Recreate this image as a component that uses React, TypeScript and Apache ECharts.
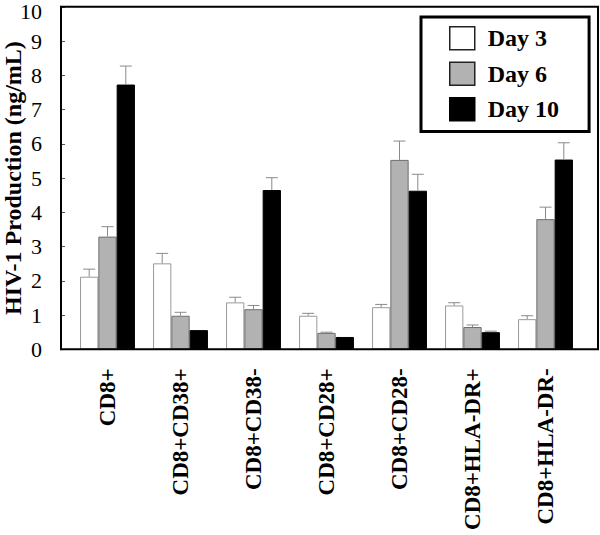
import React, { useEffect, useRef } from "react";
import * as echarts from "echarts";

const categories = ["CD8+", "CD8+CD38+", "CD8+CD38-", "CD8+CD28+", "CD8+CD28-", "CD8+HLA-DR+", "CD8+HLA-DR-"];
const seriesNames = ["Day 3", "Day 6", "Day 10"];
const day3 = [2.12, 2.51, 1.37, 0.98, 1.23, 1.28, 0.88];
const day3Sd = [0.22, 0.29, 0.15, 0.07, 0.08, 0.08, 0.1];
const day6 = [3.29, 0.98, 1.17, 0.48, 5.53, 0.65, 3.8];
const day6Sd = [0.29, 0.1, 0.11, 0.02, 0.55, 0.06, 0.35];
const day10 = [7.73, 0.56, 4.65, 0.36, 4.63, 0.5, 5.54];
const day10Sd = [0.54, 0, 0.36, 0, 0.48, 0.03, 0.49];
const yTicks = [0, 1, 2, 3, 4, 5, 6, 7, 8, 9, 10];

const FONT = "'Liberation Serif', 'Times New Roman', serif";
const BAR_W = 18.3;

export default function App() {
  const ref = useRef<HTMLDivElement>(null);
  useEffect(() => {
    if (!ref.current) return;
    const chart = echarts.init(ref.current, undefined, { renderer: "svg" });
    const means = [day3, day6, day10];
    const sds = [day3Sd, day6Sd, day10Sd];
    const fills = ["#ffffff", "#b2b2b2", "#000000"];
    const borders = ["#9a9a9a", "#6e6e6e", "#000000"];
    const yMin = yTicks[0];
    const yMax = yTicks[yTicks.length - 1];

    const barSeries = seriesNames.map((name, s) => ({
      name,
      type: "bar",
      xAxisIndex: 0,
      yAxisIndex: 0,
      data: means[s],
      barWidth: BAR_W,
      barGap: "0%",
      itemStyle: { color: fills[s], borderColor: borders[s], borderWidth: 1 },
      z: 2,
    }));

    const errSeries = seriesNames.map((name, s) => ({
      name: name + " err",
      type: "custom",
      xAxisIndex: 0,
      yAxisIndex: 0,
      z: 3,
      encode: { x: 0, y: 2 },
      data: categories.map((_, i) => [i, means[s][i], means[s][i] + sds[s][i]]),
      renderItem: (params: any, api: any) => {
        const i = api.value(0);
        const m = api.value(1);
        const t = api.value(2);
        const p0 = api.coord([i, m]);
        const p1 = api.coord([i, t]);
        const x = p0[0] + (s - 1) * BAR_W;
        if (Math.abs(p0[1] - p1[1]) < 0.5) return null;
        const style = { stroke: "#8a8a8a", lineWidth: 1 };
        return {
          type: "group",
          children: [
            { type: "line", shape: { x1: x, y1: p0[1], x2: x, y2: p1[1] }, style },
            { type: "line", shape: { x1: x - 6, y1: p1[1], x2: x + 6, y2: p1[1] }, style },
          ],
        };
      },
    }));

    chart.setOption({
      animation: false,
      backgroundColor: "#ffffff",
      grid: [
        { left: 71, right: 18, top: 6.8, bottom: 185.7, containLabel: false, outerBoundsMode: "none" },
        { left: 61, right: 2, top: 6.8, bottom: 185.7, containLabel: false, outerBoundsMode: "none" },
      ],
      legend: {
        orient: "vertical",
        left: 421,
        top: 17,
        width: 170,
        padding: [9, 30, 10, 28],
        itemWidth: 25,
        itemHeight: 23,
        itemGap: 11,
        icon: "rect",
        borderColor: "#000",
        borderWidth: 3,
        data: [
          { name: "Day 3", itemStyle: { color: "#fff", borderColor: "#222", borderWidth: 1.5 } },
          { name: "Day 6", itemStyle: { color: "#b2b2b2", borderColor: "#222", borderWidth: 1.5 } },
          { name: "Day 10", itemStyle: { color: "#000", borderColor: "#000", borderWidth: 1.5 } },
        ],
        textStyle: { fontFamily: FONT, fontWeight: "bold", fontSize: 24, color: "#000", padding: [0, 0, 0, 8] },
      },
      xAxis: [
        {
          type: "category",
          gridIndex: 0,
          data: categories,
          axisTick: { show: false },
          axisLine: { show: false },
          axisLabel: {
            rotate: 90,
            interval: 0,
            margin: 19,
            fontFamily: FONT,
            fontWeight: "bold",
            fontSize: 23,
            color: "#000",
          },
        },
        { type: "value", gridIndex: 1, show: false, min: 0, max: 1 },
      ],
      yAxis: [
        {
          type: "value",
          gridIndex: 0,
          min: yMin,
          max: yMax,
          interval: 1,
          show: false,
        },
        {
          type: "value",
          gridIndex: 1,
          min: yMin,
          max: yMax,
          interval: 1,
          name: "HIV-1 Production (ng/mL)",
          nameLocation: "middle",
          nameRotate: 90,
          nameGap: 38,
          nameMoveOverlap: false,
          nameTextStyle: { fontFamily: FONT, fontWeight: "bold", fontSize: 24, lineHeight: 20, color: "#000" },
          splitLine: { show: false },
          axisLine: { show: true, lineStyle: { color: "#000", width: 2 } },
          axisTick: { show: true, inside: true, length: 4, lineStyle: { color: "#555" } },
          axisLabel: {
            fontFamily: FONT,
            fontSize: 22,
            color: "#000",
            margin: 19,
            formatter: (v: number) => (v === yMax ? "{top|" + v + "}" : String(v)),
            rich: { top: { fontFamily: FONT, fontSize: 22, color: "#000", lineHeight: 10, padding: [9, 0, 0, 0] } },
          },
        },
      ],
      graphic: [
        {
          type: "rect",
          z: 100,
          shape: { x: 61, y: 6.8, width: 537, height: 342.5 },
          style: { fill: "none", stroke: "#000", lineWidth: 2 },
          silent: true,
        },
      ],
      series: [...barSeries, ...errSeries],
    });
    return () => chart.dispose();
  }, []);
  return (
    <div
      ref={ref}
      style={{ position: "absolute", left: 0, top: 0, width: 600, height: 535, background: "#fff" }}
    />
  );
}
